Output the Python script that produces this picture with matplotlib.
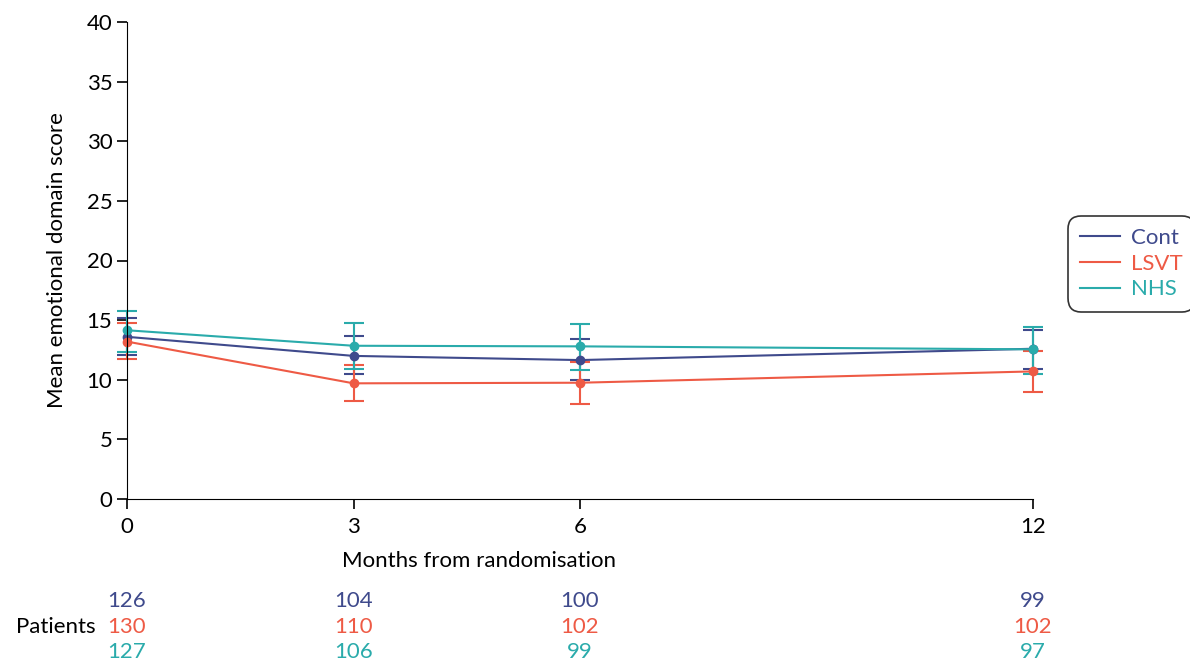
import matplotlib.pyplot as plt
import matplotlib.transforms as mtransforms

plt.rcParams['font.family'] = ['Lato', 'DejaVu Sans']

months = [0, 3, 6, 12]
groups = ['Cont', 'LSVT', 'NHS']
colors = {'Cont': '#3f4a8c', 'LSVT': '#ee5a45', 'NHS': '#2aabab'}

# mean scores with lower / upper CI limits
cont_mean = [13.6, 12.0, 11.65, 12.6]
cont_lo = [12.1, 10.5, 10.0, 10.9]
cont_hi = [15.2, 13.7, 13.4, 14.2]

lsvt_mean = [13.2, 9.7, 9.75, 10.7]
lsvt_lo = [11.7, 8.2, 8.0, 9.0]
lsvt_hi = [14.8, 11.2, 11.5, 12.4]

nhs_mean = [14.15, 12.85, 12.8, 12.55]
nhs_lo = [12.3, 10.9, 10.8, 10.5]
nhs_hi = [15.8, 14.8, 14.65, 14.45]

cont_n = [126, 104, 100, 99]
lsvt_n = [130, 110, 102, 102]
nhs_n = [127, 106, 99, 97]

series = {
    'Cont': (cont_mean, cont_lo, cont_hi, cont_n),
    'LSVT': (lsvt_mean, lsvt_lo, lsvt_hi, lsvt_n),
    'NHS': (nhs_mean, nhs_lo, nhs_hi, nhs_n),
}

FS = 16

fig = plt.figure(figsize=(11.9, 6.7), dpi=100)
ax = fig.add_axes([127 / 1190, 1 - 499 / 670, (1033 - 127) / 1190, (499 - 22) / 670])

for g in groups:
    mean, lo, hi, n = series[g]
    yerr = [[m - l for m, l in zip(mean, lo)], [h - m for m, h in zip(mean, hi)]]
    ax.errorbar(months, mean, yerr=yerr, color=colors[g], marker='o', markersize=6,
                linewidth=1.5, elinewidth=1.5, capsize=7, capthick=1.5, label=g,
                clip_on=False)

ax.set_xlim(0, 12)
ax.set_ylim(0, 40)
ax.set_xticks(months)
ax.set_yticks(range(0, 41, 5))
ax.spines['top'].set_visible(False)
ax.spines['right'].set_visible(False)
ax.tick_params(labelsize=FS, length=7, width=1.2)
ax.tick_params(axis='x', pad=6)
ax.set_ylabel('Mean emotional domain score', fontsize=FS, labelpad=14)
fig.text(479 / 1190, 1 - 561 / 670, 'Months from randomisation', ha='center', va='center',
         fontsize=FS)

# patients at each time point, under the axis
trans = mtransforms.blended_transform_factory(ax.transData, fig.transFigure)
rows = [1 - 601 / 670, 1 - 627 / 670, 1 - 652 / 670]
for g, ypos in zip(groups, rows):
    n = series[g][3]
    for m, v in zip(months, n):
        ax.text(m, ypos, str(v), transform=trans, ha='center', va='center',
                fontsize=FS, color=colors[g])
fig.text(96 / 1190, rows[1], 'Patients', ha='right', va='center', fontsize=FS)

handles = [plt.Line2D([], [], color=colors[g], linewidth=1.5) for g in groups]
leg = fig.legend(handles, groups, loc='upper left', bbox_to_anchor=(1068 / 1190, 1 - 216 / 670),
                 fontsize=FS, frameon=True, fancybox=True, handlelength=1.8,
                 labelspacing=0.25, borderpad=0.55, handletextpad=0.5, borderaxespad=0)
leg.get_frame().set_edgecolor('black')
leg.get_frame().set_linewidth(1.2)
leg.get_frame().set_boxstyle('round,pad=0,rounding_size=0.6')
for text, g in zip(leg.get_texts(), groups):
    text.set_color(colors[g])

fig.savefig('out.png', dpi=100)
